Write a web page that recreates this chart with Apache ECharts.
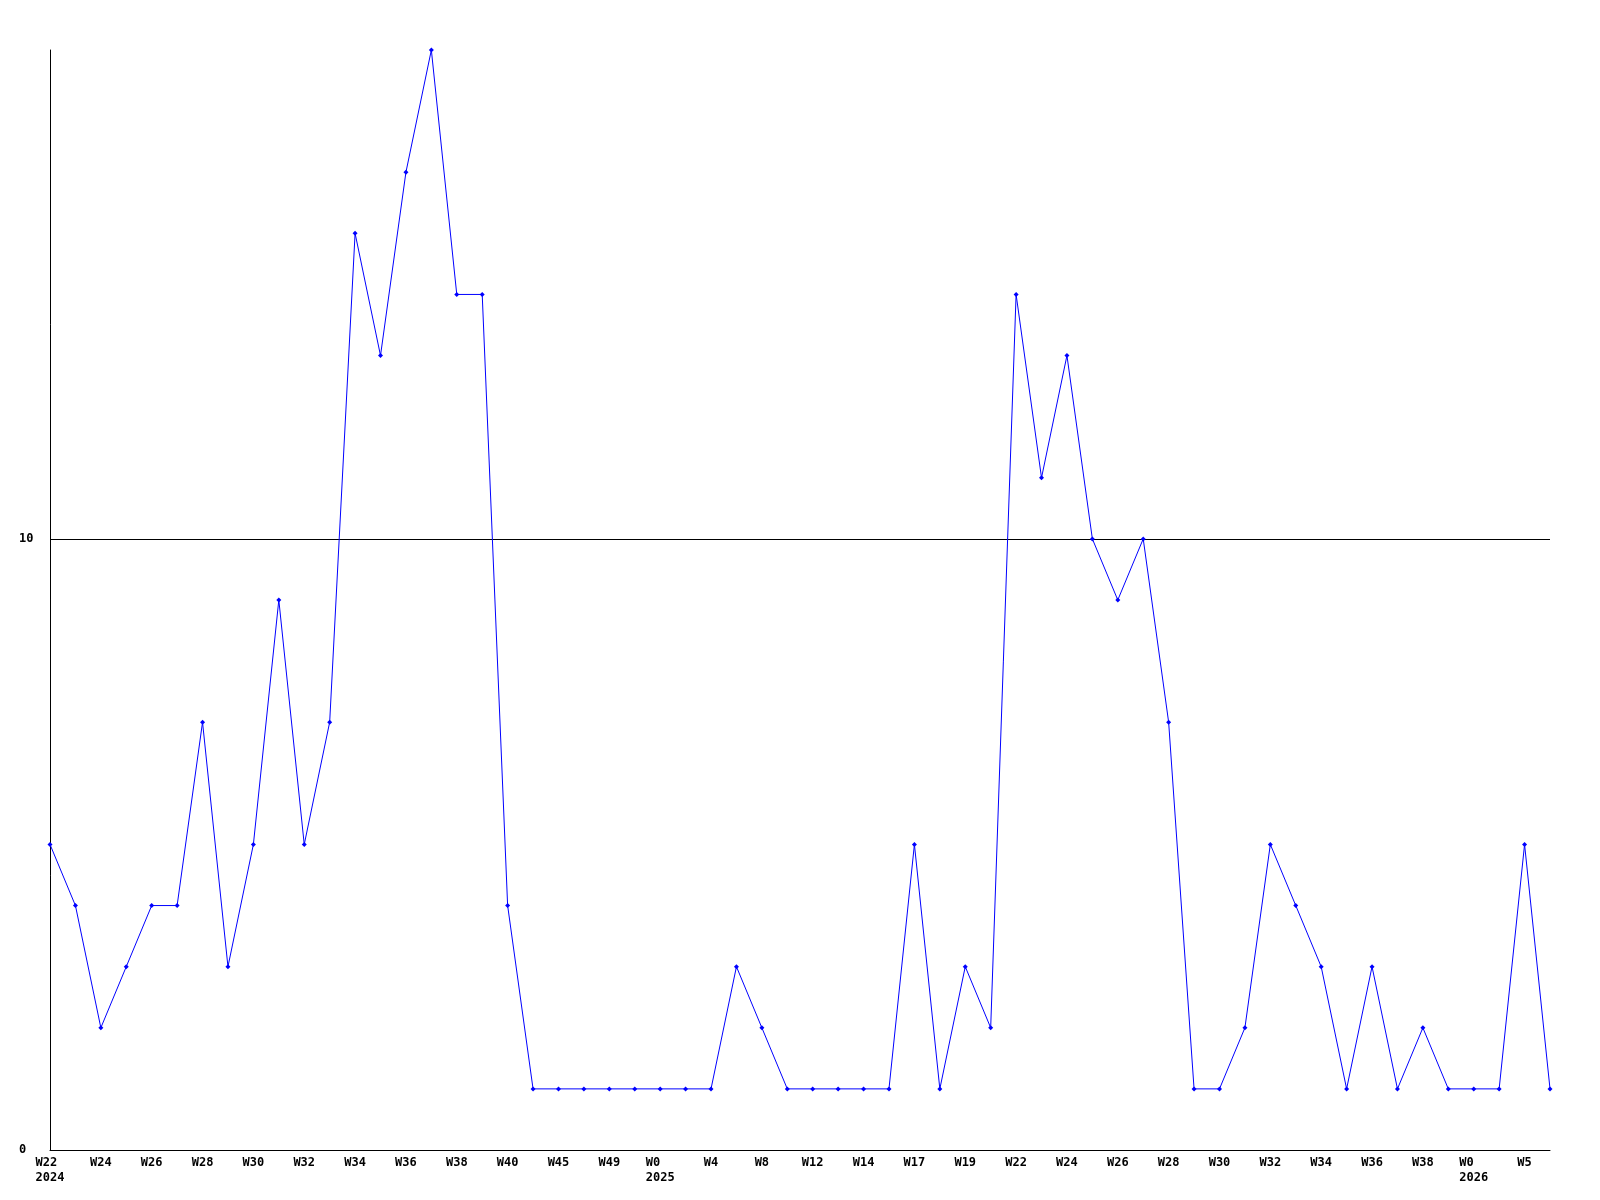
<!DOCTYPE html>
<html>
<head>
<meta charset="utf-8">
<script src="https://cdn.jsdelivr.net/npm/echarts@6/dist/echarts.min.js"></script>
<style>html,body{margin:0;padding:0;background:#fff}#c{width:1600px;height:1200px}</style>
</head>
<body>
<div id="c"></div>
<script>
const weeks = ["W22","W23","W24","W25","W26","W27","W28","W29","W30","W31",
  "W32","W33","W34","W35","W36","W37","W38","W39","W40","W44",
  "W45","W47","W49","W51","W0","W2","W4","W6","W8","W10",
  "W12","W13","W14","W16","W17","W18","W19","W21","W22","W23",
  "W24","W25","W26","W27","W28","W29","W30","W31","W32","W33",
  "W34","W35","W36","W37","W38","W40","W0","W3","W5","W6"];
const yearAt = {0: "2024", 24: "2025", 56: "2026"};
const values = [5,4,2,3,4,4,7,3,5,9,
  5,7,15,13,16,18,14,14,4,1,
  1,1,1,1,1,1,1,3,2,1,
  1,1,1,1,5,1,3,2,14,11,
  13,10,9,10,7,1,1,2,5,4,
  3,1,3,1,2,1,1,1,5,1];
const yTicks = [0, 10, 18];

const chart = echarts.init(document.getElementById('c'), null, {renderer: 'canvas'});
const font = {fontFamily: 'DejaVu Sans Mono', fontWeight: 'bold', fontSize: 12, color: '#000'};
chart.setOption({
  animation: false,
  backgroundColor: '#fff',
  grid: {left: 50, right: 50, top: 50, bottom: 50, containLabel: false},
  xAxis: {
    type: 'category',
    data: weeks,
    boundaryGap: false,
    axisLine: {show: true, lineStyle: {color: '#000', width: 1}},
    axisTick: {show: false},
    splitLine: {show: false},
    axisLabel: Object.assign({
      interval: 1,
      margin: 5,
      lineHeight: 15,
      align: 'center',
      formatter: function (v, i) {
        if (yearAt[i]) {
          let w = v;
          while (w.length < yearAt[i].length) w += ' ';
          return w + '\n' + yearAt[i];
        }
        return v;
      }
    }, font)
  },
  yAxis: {
    type: 'value',
    min: yTicks[0],
    max: yTicks[2],
    interval: yTicks[1],
    axisLine: {show: true, lineStyle: {color: '#000', width: 1}},
    axisTick: {show: false},
    splitLine: {show: true, lineStyle: {color: ['#000', '#000', 'rgba(0,0,0,0)'], width: 1}},
    axisLabel: Object.assign({
      align: 'left',
      margin: 31,
      formatter: function (v) { return v === yTicks[2] ? '' : String(v); }
    }, font)
  },
  series: [{
    type: 'line',
    data: values,
    symbol: 'diamond',
    symbolSize: 5,
    showAllSymbol: true,
    lineStyle: {color: '#0000ff', width: 1},
    itemStyle: {color: '#0000ff'},
    emphasis: {disabled: true}
  }]
});
</script>
</body>
</html>
